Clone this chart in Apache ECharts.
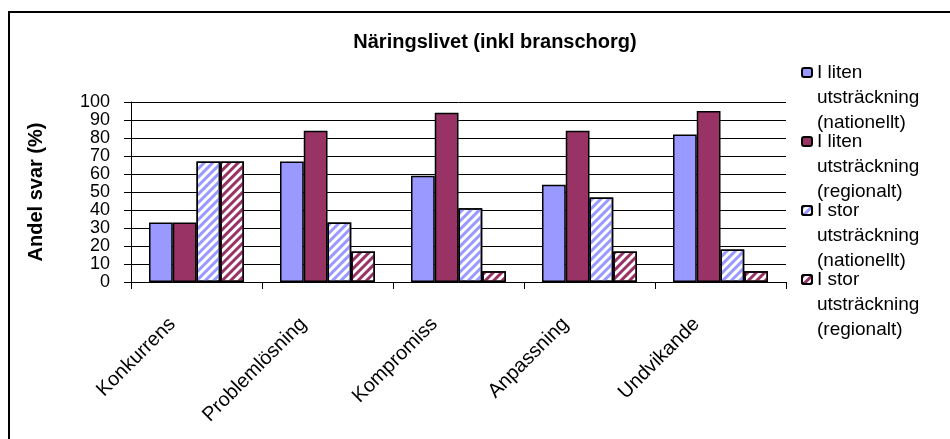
<!DOCTYPE html>
<html>
<head>
<meta charset="utf-8">
<script src="https://cdn.jsdelivr.net/npm/echarts@6/dist/echarts.min.js"></script>
<style>
  html, body { margin: 0; padding: 0; background: #fff; }
  #chart { width: 950px; height: 439px; }
</style>
</head>
<body>
<div id="chart"></div>
<script>
// data
const categories = ['Konkurrens', 'Problemlösning', 'Kompromiss', 'Anpassning', 'Undvikande'];
const litenNationellt = [33, 67, 59, 54, 82];
const litenRegionalt = [33, 84, 94, 84, 95];
const storNationellt = [67, 33, 41, 47, 18];
const storRegionalt = [67, 17, 6, 17, 6];
const yTicks = [0, 10, 20, 30, 40, 50, 60, 70, 80, 90, 100];

const blue = '#9999FF';
const plum = '#993366';
const font = 'Arial, "Liberation Sans", sans-serif';

const chart = echarts.init(document.getElementById('chart'));

function hatch(color) {
    return {
        color: color,
        symbol: 'rect',
        symbolSize: 1,
        dashArrayX: [1, 0],
        dashArrayY: [3, 3],
        rotation: -Math.PI / 4
    };
}

function bar(name, data, fill, decal) {
    const s = {
        name: name,
        type: 'bar',
        data: data,
        barGap: '0%',
        barCategoryGap: '27.5%',
        itemStyle: {
            color: fill,
            borderColor: '#000',
            borderWidth: 1.5
        }
    };
    if (decal) s.itemStyle.decal = decal;
    return s;
}

const option = {
    animation: false,
    backgroundColor: '#fff',
    textStyle: { fontFamily: font },
    title: {
        text: 'Näringslivet (inkl branschorg)',
        left: 490,
        textAlign: 'center',
        top: 27,
        textStyle: { fontSize: 20, fontWeight: 'bold', color: '#000', fontFamily: font }
    },
    graphic: [{
        type: 'rect',
        shape: { x: 9, y: 12, width: 1200, height: 1200 },
        style: { fill: 'none', stroke: '#000', lineWidth: 2 },
        silent: true
    }],
    legend: {
        orient: 'vertical',
        left: 801,
        top: 10,
        padding: 0,
        itemGap: -56,
        itemWidth: 10,
        itemHeight: 9,
        // two empty lines on top so the icon sits beside the first text line
        formatter: function (n) { return '\n\n' + n; },
        textStyle: {
            fontSize: 19,
            color: '#000',
            fontFamily: font,
            lineHeight: 25
        }
    },
    grid: {
        left: 131,
        right: 164,
        top: 102,
        bottom: 157,
        containLabel: false
    },
    xAxis: {
        type: 'category',
        data: categories,
        axisLine: { lineStyle: { color: '#000', width: 1 } },
        axisTick: { show: true, length: 7, lineStyle: { color: '#000' } },
        axisLabel: {
            rotate: 45,
            interval: 0,
            fontSize: 20,
            color: '#000',
            fontFamily: font,
            margin: 15,
            padding: [0, 34, 0, 0]
        }
    },
    yAxis: {
        type: 'value',
        min: yTicks[0],
        max: yTicks[yTicks.length - 1],
        interval: 10,
        name: 'Andel svar (%)',
        nameLocation: 'middle',
        nameGap: 85,
        nameTextStyle: { fontSize: 20, fontWeight: 'bold', color: '#000', fontFamily: font },
        axisLine: { show: true, lineStyle: { color: '#000', width: 1 } },
        axisTick: { show: true, length: 7, lineStyle: { color: '#000' } },
        axisLabel: { fontSize: 18, color: '#000', fontFamily: font, margin: 21 },
        splitLine: { show: true, lineStyle: { color: '#000', width: 1 } }
    },
    series: [
        bar('I liten\nutsträckning\n(nationellt)', litenNationellt, blue),
        bar('I liten\nutsträckning\n(regionalt)', litenRegionalt, plum),
        bar('I stor\nutsträckning\n(nationellt)', storNationellt, '#fff', hatch(blue)),
        bar('I stor\nutsträckning\n(regionalt)', storRegionalt, '#fff', hatch(plum))
    ]
};

chart.setOption(option);
</script>
</body>
</html>
